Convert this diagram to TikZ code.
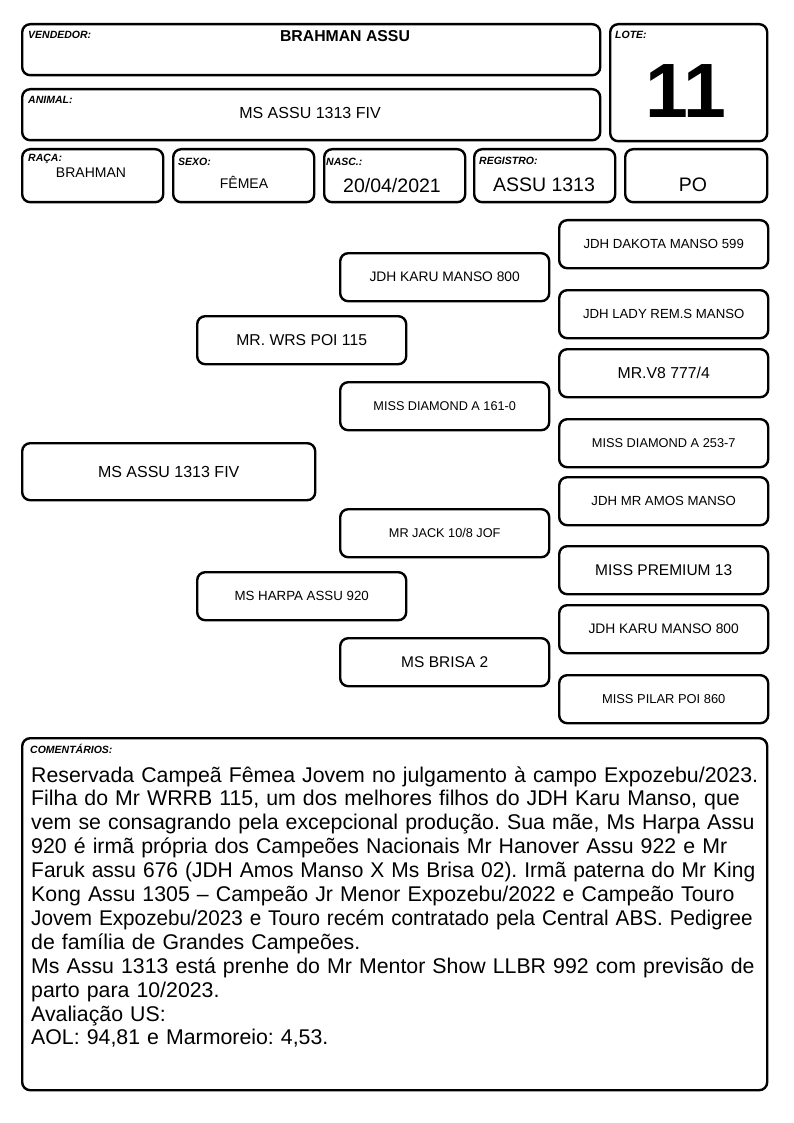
\documentclass[tikz,border=0pt]{standalone}
\usepackage{fontspec}
\usepackage{graphicx}
\setmainfont{Liberation Sans}
\frenchspacing
\hyphenpenalty=10000
\begin{document}
\begin{tikzpicture}[x=1pt,y=-1pt,
  box/.style={draw, line width=2.4pt, rounded corners=8pt, inner sep=0pt, anchor=north west, align=center},
  lbl/.style={anchor=base west, inner sep=0pt, font=\fontsize{10.5}{12}\selectfont\bfseries\itshape},
  val/.style={anchor=base, inner sep=0pt},
  ped/.style={box, minimum width=209pt, minimum height=48pt}]
\useasboundingbox (0,0) rectangle (794,1123);
\fill[white] (0,0) rectangle (794,1123);
% header
\node[box, minimum width=578pt, minimum height=51pt] (vend) at (21,23) {};
\node[lbl] (vendl) at (28,39) {VENDEDOR:};
\node[val, font=\fontsize{15.8}{18}\selectfont\bfseries] (vendv) at (345,42) {BRAHMAN ASSU};
\node[box, minimum width=578pt, minimum height=51pt] (anim) at (21,88) {};
\node[lbl] (animl) at (28,104) {ANIMAL:};
\node[val, font=\fontsize{16}{18}\selectfont] (animv) at (310,119) {MS ASSU 1313 FIV};
\node[box, minimum width=157pt, minimum height=117pt] (lote) at (609,23) {};
\node[lbl] (lotel) at (615,39) {LOTE:};
\node[val, font=\fontsize{77}{80}\selectfont\bfseries] (lotev) at (686,118) {11};
% row 3
\node[box, minimum width=141pt, minimum height=53pt] (raca) at (21,148) {};
\node[lbl] (racal) at (28,162) {RAÇA:};
\node[val, font=\fontsize{14}{16}\selectfont] (racav) at (91,178) {BRAHMAN};
\node[box, minimum width=141pt, minimum height=53pt] (sexo) at (172,148) {};
\node[lbl] (sexol) at (178,166) {SEXO:};
\node[val, font=\fontsize{14}{16}\selectfont] (sexov) at (244,189) {FÊMEA};
\node[box, minimum width=141pt, minimum height=53pt] (nasc) at (323,148) {};
\node[lbl] (nascl) at (326,166) {NASC.:};
\node[val, font=\fontsize{19.5}{22}\selectfont] (nascv) at (392,193) {20/04/2021};
\node[box, minimum width=141pt, minimum height=53pt] (reg) at (473,148) {};
\node[lbl] (regl) at (479,165) {REGISTRO:};
\node[val, font=\fontsize{19.5}{22}\selectfont] (regv) at (544,192) {ASSU 1313};
\node[box, minimum width=142pt, minimum height=53pt] (po) at (624,148) {};
\node[val, font=\fontsize{19.5}{22}\selectfont] (pov) at (693,192) {PO};
% pedigree
\node[box, minimum width=293pt, minimum height=57pt, font=\fontsize{16}{18}\selectfont] (self) at (21,442) {MS ASSU 1313 FIV};
\node[ped, font=\fontsize{15.7}{18}\selectfont] (sire) at (196,315) {MR. WRS POI 115};
\node[ped, font=\fontsize{13.3}{15}\selectfont] (dam) at (196,571) {MS HARPA ASSU 920};
\node[ped, font=\fontsize{13.8}{15}\selectfont] (ss) at (339,252) {JDH KARU MANSO 800};
\node[ped, font=\fontsize{12.7}{15}\selectfont] (sd) at (339,381) {MISS DIAMOND A 161-0};
\node[ped, font=\fontsize{12.7}{15}\selectfont] (ds) at (339,508) {MR JACK 10/8 JOF};
\node[ped, font=\fontsize{15.5}{18}\selectfont] (dd) at (339,637) {MS BRISA 2};
\node[ped, font=\fontsize{13.2}{15}\selectfont] (sss) at (558,219) {JDH DAKOTA MANSO 599};
\node[ped, font=\fontsize{13.2}{15}\selectfont] (ssd) at (558,289) {JDH LADY REM.S MANSO};
\node[ped, font=\fontsize{15.8}{18}\selectfont] (sds) at (558,348) {MR.V8 777/4};
\node[ped, font=\fontsize{12.8}{15}\selectfont] (sdd) at (558,418) {MISS DIAMOND A 253-7};
\node[ped, font=\fontsize{13.2}{15}\selectfont] (dss) at (558,476) {JDH MR AMOS MANSO};
\node[ped, font=\fontsize{15.5}{18}\selectfont] (dsd) at (558,545) {MISS PREMIUM 13};
\node[ped, font=\fontsize{13.8}{15}\selectfont] (dds) at (558,604) {JDH KARU MANSO 800};
\node[ped, font=\fontsize{12.9}{15}\selectfont] (ddd) at (558,674) {MISS PILAR POI 860};
% comments
\node[box, minimum width=745pt, minimum height=352pt] (com) at (21,737) {};
\node[lbl] (coml) at (30,753) {COMENTÁRIOS:};
\node[anchor=base west, inner sep=0pt, text width=760pt, align=left, font=\fontsize{21.3}{23.9}\selectfont] (comt) at (31,782) {Reservada Campeã Fêmea Jovem no julgamento à campo Expozebu/2023.\\
Filha do Mr WRRB 115, um dos melhores filhos do JDH Karu Manso, que\\
vem se consagrando pela excepcional produção. Sua mãe, Ms Harpa Assu\\
920 é irmã própria dos Campeões Nacionais Mr Hanover Assu 922 e Mr\\
\scalebox{0.985}[1]{Faruk assu 676 (JDH Amos Manso X Ms Brisa 02). Irmã paterna do Mr King}\\
Kong Assu 1305 – Campeão Jr Menor Expozebu/2022 e Campeão Touro\\
\scalebox{0.972}[1]{Jovem Expozebu/2023 e Touro recém contratado pela Central ABS. Pedigree}\\
de família de Grandes Campeões.\\
Ms Assu 1313 está prenhe do Mr Mentor Show LLBR 992 com previsão de\\
parto para 10/2023.\\
Avaliação US:\\
AOL: 94,81 e Marmoreio: 4,53.};
\end{tikzpicture}
\end{document}
